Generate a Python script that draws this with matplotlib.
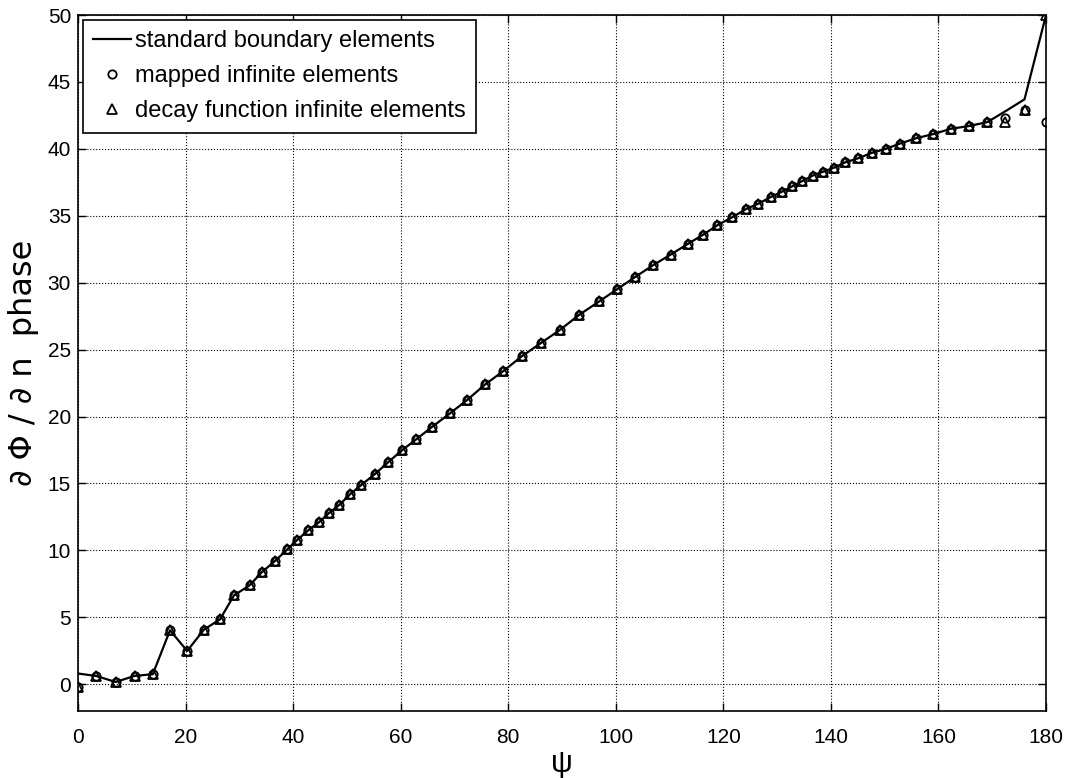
import matplotlib
matplotlib.use('Agg')
import matplotlib.pyplot as plt

plt.rcParams['font.family'] = ['Liberation Sans', 'DejaVu Sans']

# angle values (deg) of the sample points
psi = [0, 3.35, 7.0, 10.5, 13.9, 17.1, 20.3, 23.4, 26.4, 29.0, 31.9, 34.2, 36.6,
       38.9, 40.8, 42.8, 44.8, 46.7, 48.6, 50.6, 52.7, 55.2, 57.7, 60.3, 62.9,
       65.9, 69.2, 72.4, 75.7, 79.1, 82.5, 86.1, 89.7, 93.2, 96.9, 100.2, 103.5,
       106.9, 110.2, 113.4, 116.3, 118.9, 121.7, 124.2, 126.5, 128.8, 130.9,
       132.8, 134.7, 136.6, 138.6, 140.6, 142.7, 145.1, 147.6, 150.2, 152.9,
       155.9, 159.0, 162.3, 165.6, 169.1, 172.4, 176.0, 180]

common = [0.62, 0.17, 0.62, 0.75, 4.03, 2.49, 4.08, 4.85, 6.64, 7.39, 8.38, 9.2,
          10.07, 10.8, 11.5, 12.1, 12.8, 13.4, 14.2, 14.9, 15.7, 16.6, 17.5, 18.3,
          19.25, 20.25, 21.25, 22.4, 23.4, 24.5, 25.5, 26.5, 27.6, 28.6, 29.5,
          30.4, 31.3, 32.1, 32.9, 33.6, 34.3, 34.9, 35.5, 35.9, 36.4, 36.8, 37.2,
          37.6, 38.0, 38.3, 38.6, 39.0, 39.3, 39.7, 40.0, 40.4, 40.8, 41.1, 41.5,
          41.7, 42.0]

standard = [0.8] + common + [42.8, 43.7, 50.0]
mapped = [-0.2] + common + [42.3, 42.9, 42.0]
decay = [-0.2] + common + [42.0, 42.9, 50.0]

fig = plt.figure(figsize=(10.69, 7.78), dpi=100)
ax = fig.add_axes([0.073, 0.0861, 0.9055, 0.8946])

ax.plot(psi, standard, color='black', lw=1.6, label='standard boundary elements')
ax.plot(psi, mapped, ls='none', marker='o', ms=6, mfc='none', mec='black',
        mew=1.3, label='mapped infinite elements')
ax.plot(psi, decay, ls='none', marker='^', ms=7.5, mfc='none', mec='black',
        mew=1.3, label='decay function infinite elements')

ax.set_xlim(0, 180)
ax.set_ylim(-2, 50)
ax.set_xticks(range(0, 181, 20))
ax.set_yticks(range(0, 51, 5))
ax.grid(True, color='black', ls=':', lw=0.8)
ax.tick_params(direction='in', length=6, width=1, top=True, right=True,
               labelsize=15)
ax.tick_params(axis='x', pad=12)
ax.tick_params(axis='y', pad=5)
for s in ax.spines.values():
    s.set_linewidth(1.2)

ax.set_xlabel('ψ', fontsize=22, labelpad=2)
ax.set_ylabel('∂ Φ / ∂ n  phase', fontsize=23, family=['DejaVu Sans'],
              labelpad=6)

leg = ax.legend(loc='upper left', fontsize=17, fancybox=False, framealpha=1,
                edgecolor='black', handlelength=1.6, handletextpad=0.15,
                labelspacing=0.55, borderaxespad=0.2, borderpad=0.45)
leg.get_frame().set_linewidth(1.2)

fig.savefig('out.png', dpi=100)
